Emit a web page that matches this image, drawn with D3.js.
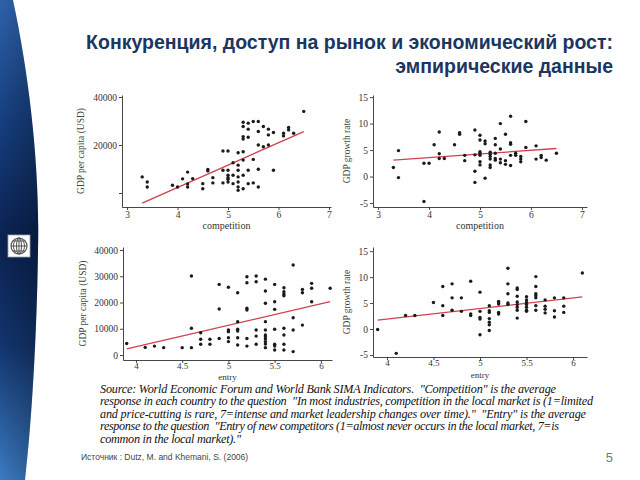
<!DOCTYPE html>
<html><head><meta charset="utf-8">
<script src="https://cdn.jsdelivr.net/npm/d3@7/dist/d3.min.js"></script>
<style>
html,body{margin:0;padding:0;background:#fff;}
svg{display:block;}
text{white-space:pre;}
</style></head>
<body>
<svg id="chart" width="640" height="480"></svg>
<script>
// ---------- DATA ----------
const titleLines = ["Конкуренция, доступ на рынок и экономический рост:", "эмпирические данные"];

// Panel 1: competition vs GDP per capita (USD)
const compX1 = [3.3,3.4,3.4,3.9,4.0,4.1,4.2,4.2,4.2,4.3,4.5,4.5,4.6,4.6,4.7,4.7,4.9,4.9,4.9,5.0,5.0,5.0,5.0,5.0,5.0,5.1,5.1,5.1,5.2,5.2,5.2,5.2,5.2,5.2,5.2,5.3,5.3,5.3,5.3,5.3,5.3,5.3,5.3,5.4,5.4,5.4,5.4,5.4,5.5,5.5,5.5,5.6,5.6,5.6,5.6,5.6,5.7,5.7,5.8,5.8,5.8,5.9,5.9,6.1,6.1,6.2,6.2,6.3,6.5];
const gdp1 = [6700,4600,2500,3200,2500,5900,8700,3800,2500,6000,3900,1800,9800,9200,6400,4200,17500,9500,4200,17500,9500,7400,6400,5700,4600,12600,7400,3900,16800,11600,9500,6700,4600,2500,1100,29500,27700,23500,22500,17200,13700,7400,1800,29100,26600,23200,9500,3900,29800,14000,4200,29800,25600,20000,9900,2500,27700,19300,26600,24200,20000,25200,9500,24900,23800,27300,26300,24900,34000];
const fitX1 = [3.3, 6.5];
const fitY1 = [-4200, 25600];

// Panel 2: competition vs GDP growth rate
const compX2 = [3.3,3.4,3.4,3.9,4.0,3.9,4.1,4.2,4.2,4.2,4.3,4.5,4.6,4.6,4.7,4.7,4.9,4.9,4.9,4.9,5.0,5.0,5.0,5.0,5.0,5.0,5.0,5.1,5.1,5.1,5.2,5.2,5.2,5.2,5.2,5.2,5.3,5.3,5.3,5.3,5.3,5.4,5.4,5.4,5.4,5.5,5.5,5.5,5.6,5.6,5.6,5.6,5.6,5.7,5.7,5.8,5.8,5.8,5.9,5.9,6.1,6.1,6.2,6.2,6.3,6.5];
const growth2 = [1.7,4.9,-0.2,2.5,2.5,-4.7,6.0,8.4,4.3,3.4,3.4,6.0,8.3,8.0,4.0,3.0,8.8,4.1,1.0,-1.1,7.8,6.9,4.7,4.4,4.0,2.8,2.2,6.7,6.2,-0.3,4.6,4.2,3.8,3.3,2.2,1.7,7.2,6.0,4.4,3.4,3.1,10.0,5.2,3.3,2.6,8.0,3.0,2.3,11.4,6.4,6.1,4.0,2.1,4.4,4.0,3.8,3.3,2.8,10.4,5.5,5.8,3.3,4.0,3.6,3.1,4.4];
const fitX2 = [3.3, 6.5];
const fitY2 = [3.1, 5.3];

// Panel 3: entry vs GDP per capita (USD)
const entryX3 = [3.9,4.1,4.2,4.3,4.5,4.6,4.6,4.6,4.7,4.7,4.7,4.8,4.8,4.9,4.9,4.9,5.0,5.0,5.0,5.0,5.0,5.1,5.1,5.1,5.1,5.1,5.1,5.2,5.2,5.2,5.2,5.2,5.2,5.3,5.3,5.3,5.3,5.3,5.4,5.4,5.4,5.4,5.4,5.4,5.4,5.4,5.4,5.4,5.4,5.5,5.5,5.5,5.5,5.5,5.5,5.5,5.6,5.6,5.6,5.6,5.6,5.6,5.6,5.6,5.7,5.7,5.7,5.7,5.8,5.8,5.8,5.9,5.9,5.9,6.1];
const gdp3 = [4400,2900,3400,2800,2800,30100,10200,2800,8500,6000,4100,6000,4100,26900,17500,6300,25800,9500,8900,6600,5100,23700,12700,9800,9100,6600,3800,29800,27500,17800,17100,6300,3400,30100,27900,9500,7200,4100,28900,24400,19700,12700,9500,7600,7000,6100,5100,4200,2800,26900,20300,17400,9800,4100,3400,1900,25600,24100,23200,22600,10200,7600,4100,1900,34300,14200,9500,1300,25000,23700,11400,27300,25400,20300,25400];
const fitX3 = [3.9, 6.1];
const fitY3 = [2300, 20300];

// Panel 4: entry vs GDP growth rate
const entryX4 = [3.9,4.1,4.2,4.3,4.5,4.6,4.6,4.6,4.7,4.7,4.7,4.8,4.8,4.9,4.9,4.9,5.0,5.0,5.0,5.0,5.0,5.1,5.1,5.1,5.1,5.1,5.1,5.1,5.2,5.2,5.2,5.2,5.2,5.3,5.3,5.3,5.3,5.3,5.4,5.4,5.4,5.4,5.4,5.4,5.4,5.4,5.5,5.5,5.5,5.5,5.5,5.5,5.5,5.6,5.6,5.6,5.6,5.6,5.6,5.6,5.7,5.7,5.7,5.7,5.8,5.8,5.8,5.9,5.9,5.9,6.1];
const growth4 = [-0.1,-4.7,2.6,2.6,5.1,8.2,4.5,2.6,8.7,6.0,3.6,6.0,3.4,9.2,2.9,2.6,7.1,3.4,2.2,1.9,-1.1,4.5,3.5,3.2,2.0,1.3,0.8,-0.3,5.3,5.0,4.8,3.2,2.9,11.7,8.7,6.8,5.0,4.7,7.9,7.6,6.3,5.2,4.7,4.2,3.6,2.1,6.2,5.6,5.1,4.7,4.2,3.6,3.4,10.1,8.2,6.8,6.4,6.0,4.5,3.6,5.6,4.4,3.8,3.1,6.0,3.5,2.3,6.0,4.4,3.2,10.8];
const fitX4 = [3.9, 6.1];
const fitY4 = [1.7, 6.2];

// Tick values / labels
const xTicksComp = [3, 4, 5, 6, 7];
const xTicksEntry = [4, 4.5, 5, 5.5, 6];
const yTicksGdp1 = [0, 20000, 40000];
const yTickLabelsGdp1 = ["", "20000", "40000"];
const yTicksGdp3 = [0, 10000, 20000, 30000, 40000];
const yTicksGrowth = [-5, 0, 5, 10, 15];

const axisLabels = { comp: "competition", entry: "entry", gdp: "GDP per capita (USD)", growth: "GDP growth rate" };

const sourceLines = [
  "Source: World Economic Forum and World Bank SIMA Indicators.  \"Competition\" is the average",
  "response in each country to the question  \"In most industries, competition in the local market is (1=limited",
  "and price-cutting is rare, 7=intense and market leadership changes over time).\"  \"Entry\" is the average",
  "response to the question  \"Entry of new competitors (1=almost never occurs in the local market, 7=is",
  "common in the local market).\""
];
const sourceWidths = [456, 493, 486, 459, 141];
const footerText = "Источник : Dutz, M. and Khemani, S. (2006)";
const pageNumber = "5";

// ---------- DRAW ----------
const svg = d3.select("#chart");
const defs = svg.append("defs");

// Sidebar gradient
const g1 = defs.append("linearGradient").attr("id", "side").attr("x1", 0).attr("y1", 0).attr("x2", 0).attr("y2", 1);
[["0%", "#2f62ab"], ["25%", "#163f80"], ["50%", "#0a2250"], ["72%", "#12356e"], ["100%", "#3b7bc3"]]
  .forEach(([o, c]) => g1.append("stop").attr("offset", o).attr("stop-color", c));
const g2 = defs.append("linearGradient").attr("id", "sideH").attr("x1", 0).attr("y1", 0).attr("x2", 1).attr("y2", 0);
g2.append("stop").attr("offset", "0%").attr("stop-color", "#000").attr("stop-opacity", 0);
g2.append("stop").attr("offset", "100%").attr("stop-color", "#000").attr("stop-opacity", 0.25);

const sidePath = "M0,0 L13,0 C30,80 40,170 38,250 C37,330 32,420 25,480 L0,480 Z";
svg.append("path").attr("d", sidePath).attr("fill", "url(#side)");
svg.append("path").attr("d", sidePath).attr("fill", "url(#sideH)");

// Logo
const logo = svg.append("g").attr("transform", "translate(19,246)");
logo.append("rect").attr("x", -11).attr("y", -11).attr("width", 22).attr("height", 22)
  .attr("fill", "#fff").attr("stroke", "#9aa3ad").attr("stroke-width", 0.8);
logo.append("circle").attr("r", 8).attr("fill", "none").attr("stroke", "#555").attr("stroke-width", 1.2);
[-5, 0, 5].forEach(dy => {
  const hw = Math.sqrt(64 - dy * dy);
  logo.append("line").attr("x1", -hw).attr("x2", hw).attr("y1", dy).attr("y2", dy).attr("stroke", "#555").attr("stroke-width", 1);
});
[2.5, 5.5].forEach(rx => logo.append("ellipse").attr("rx", rx).attr("ry", 8).attr("fill", "none").attr("stroke", "#555").attr("stroke-width", 1));
logo.append("line").attr("x1", 0).attr("x2", 0).attr("y1", -8).attr("y2", 8).attr("stroke", "#555").attr("stroke-width", 1);

// Title
svg.append("g").selectAll("text").data(titleLines).join("text")
  .attr("x", 613).attr("y", (d, i) => 49 + i * 23.5)
  .attr("text-anchor", "end")
  .attr("font-family", "Liberation Sans, Arial, sans-serif")
  .attr("font-weight", "bold").attr("font-size", 19.5)
  .attr("fill", "#1c3660")
  .text(d => d);

// Panels
const panels = [
  { xs: compX1, ys: gdp1, fx: fitX1, fy: fitY1, xDom: [2.9, 7.04], xRange: [122, 331], yDom: [-5833, 40833], yRange: [207, 95],
    xTicks: xTicksComp, yTicks: yTicksGdp1, yFmt: (d, i) => yTickLabelsGdp1[i], xLab: axisLabels.comp, yLab: axisLabels.gdp, xLabY: 229, yLabX: 84 },
  { xs: compX2, ys: growth2, fx: fitX2, fy: fitY2, xDom: [2.9, 7.1], xRange: [373, 587], yDom: [-5.75, 15.4], yRange: [207, 95],
    xTicks: xTicksComp, yTicks: yTicksGrowth, yFmt: d => d, xLab: axisLabels.comp, yLab: axisLabels.growth, xLabY: 229, yLabX: 350 },
  { xs: entryX3, ys: gdp3, fx: fitX3, fy: fitY3, xDom: [3.86, 6.12], xRange: [123, 332], yDom: [-1900, 41140], yRange: [360, 247],
    xTicks: xTicksEntry, yTicks: yTicksGdp3, yFmt: d => d, xLab: axisLabels.entry, yLab: axisLabels.gdp, xLabY: 379.5, yLabX: 86 },
  { xs: entryX4, ys: growth4, fx: fitX4, fy: fitY4, xDom: [3.85, 6.15], xRange: [373, 587], yDom: [-5.4, 15.8], yRange: [357, 247],
    xTicks: xTicksEntry, yTicks: yTicksGrowth, yFmt: d => d, xLab: axisLabels.entry, yLab: axisLabels.growth, xLabY: 378, yLabX: 350 }
];

const serif = "Liberation Serif, Times New Roman, serif";

panels.forEach((p, k) => {
  const x = d3.scaleLinear().domain(p.xDom).range(p.xRange);
  const y = d3.scaleLinear().domain(p.yDom).range(p.yRange);
  const g = svg.append("g");
  const bottomRow = k >= 2;

  const xa = g.append("g").attr("transform", `translate(0,${p.yRange[0]})`)
    .call(d3.axisBottom(x).tickValues(p.xTicks).tickSize(3).tickSizeOuter(0).tickPadding(bottomRow ? 0 : 1).tickFormat(d => d));
  const ya = g.append("g").attr("transform", `translate(${p.xRange[0]},0)`)
    .call(d3.axisLeft(y).tickValues(p.yTicks).tickSize(3).tickSizeOuter(0).tickPadding(2).tickFormat(p.yFmt));
  [xa, ya].forEach(a => {
    a.selectAll("path,line").attr("stroke", "#333").attr("stroke-width", 0.9);
    a.selectAll("text").attr("font-family", serif).attr("font-size", 9.5).attr("fill", "#333");
  });
  if (bottomRow) xa.selectAll("text").attr("font-size", 9);

  g.append("text").attr("x", (p.xRange[0] + p.xRange[1]) / 2).attr("y", p.xLabY)
    .attr("text-anchor", "middle").attr("font-family", serif).attr("font-size", bottomRow ? 9 : 10).attr("fill", "#333").text(p.xLab);
  g.append("text").attr("transform", `translate(${p.yLabX},${(p.yRange[0] + p.yRange[1]) / 2}) rotate(-90)`)
    .attr("text-anchor", "middle").attr("font-family", serif).attr("font-size", 9.5).attr("fill", "#444").text(p.yLab);

  g.append("line")
    .attr("x1", x(p.fx[0])).attr("y1", y(p.fy[0])).attr("x2", x(p.fx[1])).attr("y2", y(p.fy[1]))
    .attr("stroke", "#d2404f").attr("stroke-width", 1.3);

  g.append("g").selectAll("circle").data(p.xs.map((v, i) => [v, p.ys[i]])).join("circle")
    .attr("cx", d => x(d[0])).attr("cy", d => y(d[1])).attr("r", 1.7).attr("fill", "#1a1a1a");
});

// Source text
svg.append("g").selectAll("text").data(sourceLines).join("text")
  .attr("x", 100).attr("y", (d, i) => 392.5 + i * 12.5)
  .attr("font-family", serif).attr("font-style", "italic").attr("font-size", 12.2)
  .attr("textLength", (d, i) => sourceWidths[i]).attr("lengthAdjust", "spacing")
  .attr("fill", "#111")
  .text(d => d);

// Footer
svg.append("text").attr("x", 81).attr("y", 460)
  .attr("font-family", "Liberation Sans, Arial, sans-serif").attr("font-size", 8.5).attr("fill", "#444").text(footerText);
svg.append("text").attr("x", 613).attr("y", 462).attr("text-anchor", "end")
  .attr("font-family", "Liberation Sans, Arial, sans-serif").attr("font-size", 13).attr("fill", "#777").text(pageNumber);
</script>
</body></html>
